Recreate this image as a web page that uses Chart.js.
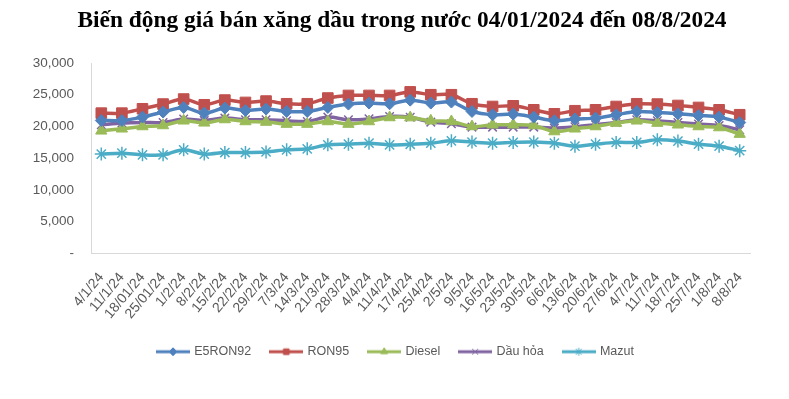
<!DOCTYPE html>
<html>
<head>
<meta charset="utf-8">
<script src="https://cdn.jsdelivr.net/npm/chart.js@4.4.1/dist/chart.umd.min.js"></script>
<style>
  html, body { margin: 0; padding: 0; background: #fff; }
  #wrap { width: 789px; height: 399px; position: relative; }
</style>
</head>
<body>
<div id="wrap"><canvas id="priceChart"></canvas></div>
<script>
'use strict';

/* ── Data (VND / lít) ─────────────────────────── */
const chartTitle = 'Biến động giá bán xăng dầu trong nước 04/01/2024 đến 08/8/2024';

const dates = [
  '4/1/24', '11/1/24', '18/01/24', '25/01/24', '1/2/24', '8/2/24', '15/2/24', '22/2/24',
  '29/2/24', '7/3/24', '14/3/24', '21/3/24', '28/3/24', '4/4/24', '11/4/24', '17/4/24',
  '25/4/24', '2/5/24', '9/5/24', '16/5/24', '23/5/24', '30/5/24', '6/6/24', '13/6/24',
  '20/6/24', '27/6/24', '4/7/24', '11/7/24', '18/7/24', '25/7/24', '1/8/24', '8/8/24'
];

const e5ron92 = [
  20950, 20950, 21480, 22270, 23000, 22110, 22900, 22520,
  22740, 22370, 22370, 23000, 23530, 23690, 23580, 24150,
  23690, 23850, 22370, 21850, 21960, 21480, 20900, 21190,
  21320, 21850, 22370, 22210, 22000, 21740, 21480, 20630
];

const ron95 = [
  22100, 22100, 22790, 23530, 24320, 23420, 24160, 23790,
  24000, 23580, 23580, 24480, 24890, 24890, 24890, 25450,
  25000, 25000, 23580, 23150, 23260, 22630, 22000, 22480,
  22630, 23150, 23580, 23530, 23310, 23000, 22630, 21850
];

const diesel = [
  19320, 19640, 20000, 20160, 20900, 20580, 21100, 20790,
  20700, 20380, 20380, 20790, 20380, 20790, 21420, 21400,
  20900, 20790, 20000, 20270, 20270, 20160, 19210, 19640,
  20000, 20540, 20900, 20540, 20270, 20000, 19840, 18800
];

const dauHoa = [
  20270, 20540, 20630, 20630, 21170, 20950, 21320, 21060,
  21060, 20900, 20790, 21480, 21060, 21210, 21580, 21450,
  20690, 20430, 19900, 19900, 19900, 19900, 19750, 19950,
  20270, 20630, 21060, 20900, 20630, 20380, 20160, 19480
];

const mazut = [
  15650, 15800, 15540, 15540, 16320, 15650, 15900, 15900,
  16000, 16320, 16480, 17110, 17220, 17380, 17110, 17200,
  17380, 17740, 17540, 17380, 17500, 17540, 17380, 16900,
  17220, 17500, 17500, 17900, 17700, 17220, 16900, 16200
];

const yTicks = [0, 5000, 10000, 15000, 20000, 25000, 30000];

/* ── Series look ─────────────────────────────── */
const series = [
  { label: 'E5RON92', data: e5ron92, color: '#4F81BD', marker: 'rectRot',  r: 6 },
  { label: 'RON95',   data: ron95,   color: '#C0504D', marker: 'rect',     r: 7.5 },
  { label: 'Diesel',  data: diesel,  color: '#9BBB59', marker: 'triangle', r: 6.5 },
  { label: 'Dầu hỏa', data: dauHoa,  color: '#8064A2', marker: 'crossRot', r: 6 },
  { label: 'Mazut',   data: mazut,   color: '#4BACC6', marker: 'star',     r: 6.5 },
];

const FONT = "'Liberation Sans', Arial, sans-serif";

// little line + marker swatch for the legend, like the spreadsheet one
function legendSwatch(s) {
  const c = document.createElement('canvas');
  c.width = 34; c.height = 12;
  const g = c.getContext('2d');
  g.strokeStyle = s.color;
  g.lineWidth = 3;
  g.beginPath(); g.moveTo(0, 6); g.lineTo(34, 6); g.stroke();
  g.fillStyle = s.color;
  g.lineWidth = 1;
  Chart.helpers.drawPoint(g, { pointStyle: s.marker, radius: 4, rotation: 0, borderWidth: 1 }, 17, 6);
  if (s.marker !== 'crossRot' && s.marker !== 'star') g.fill();
  return c;
}

const datasets = series.map(s => ({
  label: s.label,
  data: s.data,
  borderColor: s.color,
  backgroundColor: s.color,
  borderWidth: 3.5,
  tension: 0.3,
  pointStyle: s.marker,
  pointRadius: s.r,
  pointBorderWidth: (s.marker === 'crossRot' || s.marker === 'star') ? 1.5 : 1,
  pointBackgroundColor: s.color,
  pointBorderColor: s.color,
  swatch: legendSwatch(s),
}));

// title and legend sit a bit right of canvas centre in the original
const sheetLayout = {
  id: 'sheetLayout',
  afterLayout(chart) {
    chart.legend.left += 11;
    chart.legend.right += 11;
  },
  afterDraw(chart) {
    const ctx = chart.ctx;
    ctx.save();
    ctx.font = "bold 23.4px 'Liberation Serif', 'Times New Roman', serif";
    ctx.fillStyle = '#000';
    ctx.textAlign = 'center';
    ctx.textBaseline = 'middle';
    ctx.fillText(chartTitle, 402, 21);
    ctx.restore();
  },
};

/* ── Chart ───────────────────────────────────── */
new Chart(document.getElementById('priceChart'), {
  type: 'line',
  data: { labels: dates, datasets },
  plugins: [sheetLayout],
  options: {
    responsive: true,
    maintainAspectRatio: false,
    animation: false,
    layout: { padding: { left: 20, right: 39, top: 63, bottom: 31 } },
    plugins: {
      title: { display: false },
      legend: {
        position: 'bottom',
        labels: {
          usePointStyle: true,
          pointStyleWidth: 30,
          padding: 20,
          color: '#595959',
          font: { family: FONT, size: 12.5 },
          generateLabels(chart) {
            return chart.data.datasets.map((ds, i) => ({
              text: ds.label,
              fillStyle: ds.borderColor,
              strokeStyle: ds.borderColor,
              pointStyle: ds.swatch,
              fontColor: '#595959',
              lineWidth: 0,
              hidden: !chart.isDatasetVisible(i),
              datasetIndex: i,
            }));
          },
        },
      },
      tooltip: { enabled: false },
    },
    scales: {
      x: {
        offset: true,
        afterFit(scale) { scale.height = 72; },
        grid: { display: false },
        border: { display: true, color: '#D9D9D9' },
        ticks: {
          autoSkip: false,
          maxRotation: 50,
          minRotation: 50,
          color: '#595959',
          padding: 8,
          font: { family: FONT, size: 14 },
        },
      },
      y: {
        min: 0,
        max: 30000,
        afterFit(scale) { scale.width = 71; },
        afterBuildTicks(scale) { scale.ticks = yTicks.map(v => ({ value: v })); },
        grid: { display: false },
        border: { display: true, color: '#D9D9D9' },
        ticks: {
          color: '#595959',
          padding: 9,
          font: { family: FONT, size: 13.5 },
          callback: v => v === 0 ? '-' : v.toLocaleString('en-US'),
        },
      },
    },
  },
});
</script>
</body>
</html>
